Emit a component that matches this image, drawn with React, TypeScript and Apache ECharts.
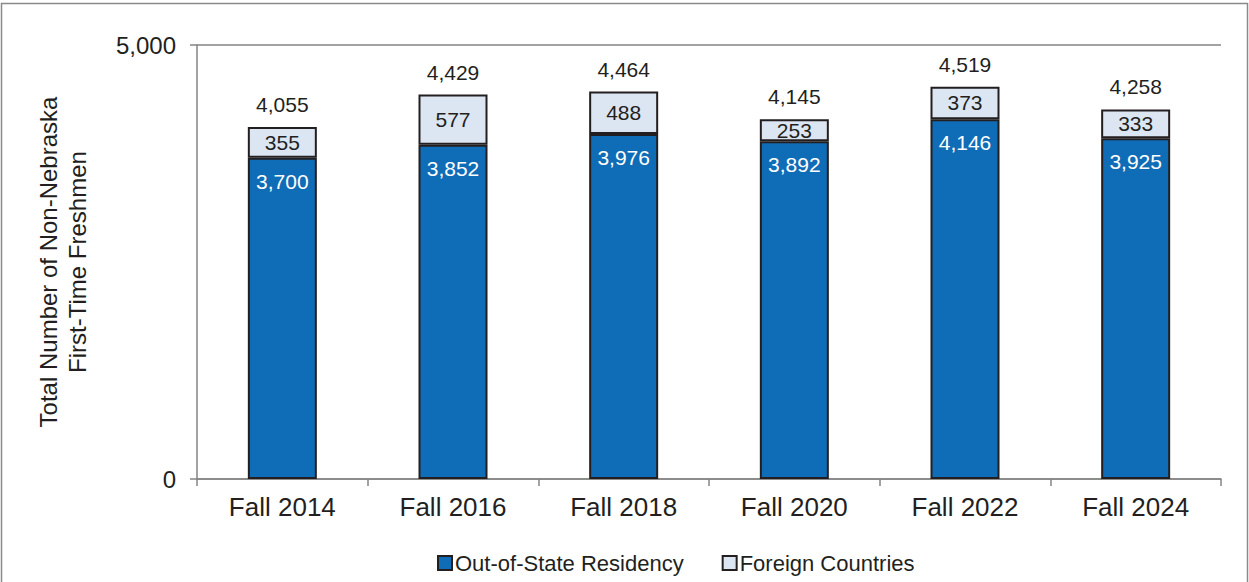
import React, { useEffect, useRef } from "react";
import * as echarts from "echarts";

const categories = ["Fall 2014", "Fall 2016", "Fall 2018", "Fall 2020", "Fall 2022", "Fall 2024"];
const outOfState = [3700, 3852, 3976, 3892, 4146, 3925];
const foreign = [355, 577, 488, 253, 373, 333];
const totals = [4055, 4429, 4464, 4145, 4519, 4258];
const yTicks = [0, 5000];

const FONT = "'Liberation Sans', Arial, Helvetica, sans-serif";
const TEXT = "#231f20";
const BORDER = "#231f20";
const AXIS = "#858585";

const fmt = (v: number) => v.toLocaleString("en-US");

export default function App() {
  const ref = useRef<HTMLDivElement>(null);
  useEffect(() => {
    if (!ref.current) return;
    const chart = echarts.init(ref.current, undefined, { renderer: "svg" });
    chart.setOption({
      animation: false,
      backgroundColor: "#ffffff",
      textStyle: { fontFamily: FONT },
      graphic: [
        {
          type: "rect",
          shape: { x: 1.5, y: 3.5, width: 1246, height: 640 },
          style: { fill: "none", stroke: "#8a8a8a", lineWidth: 1.5 },
          silent: true,
          z: -10,
        },
      ],
      grid: { left: 197, right: 28, top: 45, bottom: 103, containLabel: false },
      legend: {
        data: ["Out-of-State Residency", "Foreign Countries"],
        left: 432,
        top: 547,
        itemWidth: 14,
        itemHeight: 14,
        itemGap: 38,
        icon: "rect",
        textStyle: { fontFamily: FONT, fontSize: 22, color: TEXT, padding: [0, 0, 0, -2] },
      },
      xAxis: {
        type: "category",
        data: categories,
        boundaryGap: true,
        axisLine: { show: true, lineStyle: { color: AXIS, width: 1.5 } },
        axisTick: { show: true, length: 7, alignWithLabel: false, lineStyle: { color: AXIS, width: 1.5 } },
        axisLabel: { fontFamily: FONT, fontSize: 26, color: TEXT, margin: 15 },
      },
      yAxis: {
        type: "value",
        min: yTicks[0],
        max: yTicks[1],
        interval: yTicks[1] - yTicks[0],
        name: "Total Number of Non-Nebraska\nFirst-Time Freshmen",
        nameLocation: "middle",
        nameGap: 105,
        nameRotate: 90,
        nameTextStyle: { fontFamily: FONT, fontSize: 24, color: TEXT, lineHeight: 29 },
        axisLine: { show: true, lineStyle: { color: AXIS, width: 1.5 } },
        axisTick: { show: true, length: 7, lineStyle: { color: AXIS, width: 1.5 } },
        axisLabel: { fontFamily: FONT, fontSize: 24, color: TEXT, margin: 21, formatter: (v: number) => fmt(v) },
        splitLine: { show: true, lineStyle: { color: AXIS, width: 1.5 } },
      },
      series: [
        {
          name: "Out-of-State Residency",
          type: "bar",
          stack: "total",
          data: outOfState,
          barWidth: 69,
          itemStyle: { color: "#0f6cb6", borderColor: BORDER, borderWidth: 2 },
          label: {
            show: true,
            position: "insideTop",
            distance: 13,
            fontFamily: FONT,
            fontSize: 21,
            color: "#ffffff",
            formatter: (p: any) => fmt(p.value),
          },
        },
        {
          name: "Foreign Countries",
          type: "bar",
          stack: "total",
          data: foreign,
          barWidth: 69,
          itemStyle: { color: "#dce6f2", borderColor: BORDER, borderWidth: 2 },
          label: {
            show: true,
            position: "inside",
            fontFamily: FONT,
            fontSize: 21,
            color: TEXT,
            formatter: (p: any) => fmt(p.value),
          },
        },
        {
          name: "Total",
          type: "bar",
          stack: "total",
          data: categories.map(() => 0),
          barWidth: 69,
          silent: true,
          itemStyle: { color: "rgba(0,0,0,0)", borderWidth: 0 },
          label: {
            show: true,
            position: "top",
            distance: 12,
            fontFamily: FONT,
            fontSize: 21,
            color: TEXT,
            formatter: (p: any) => fmt(totals[p.dataIndex]),
          },
        },
      ],
    });
    return () => chart.dispose();
  }, []);
  return <div ref={ref} style={{ position: "fixed", left: 0, top: 0, width: 1249, height: 582 }} />;
}
